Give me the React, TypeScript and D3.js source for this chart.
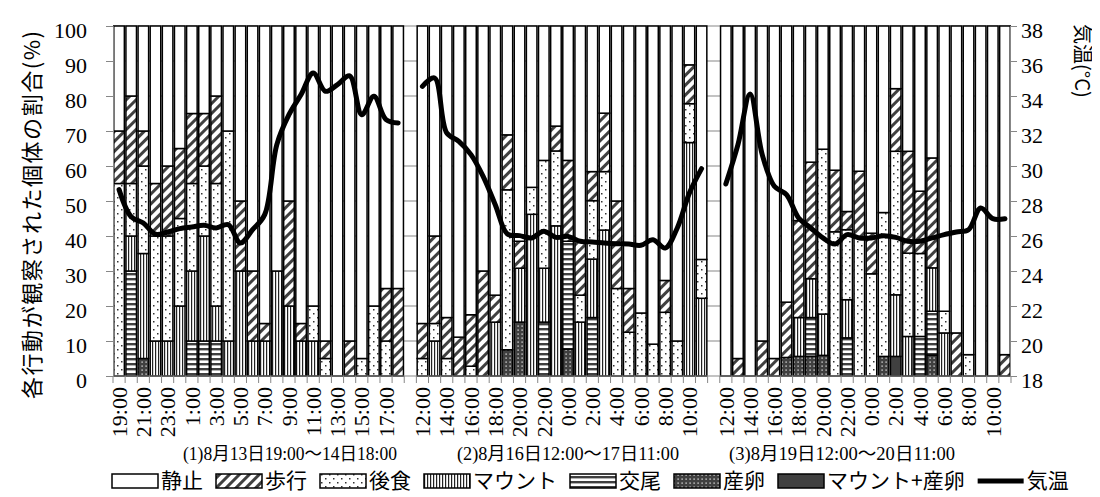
import * as d3 from 'd3';
import React, { useRef, useEffect } from 'react';

const width = 1100;
const height = 497;
const plot = { left: 105, right: 1003, top: 18, bottom: 368 };

// category labels (only every other hour is labelled, "" = unlabelled / gap)
const hourLabels = [
  '19:00', '', '21:00', '', '23:00', '', '1:00', '', '3:00', '', '5:00', '', '7:00', '', '9:00', '', '11:00', '', '13:00', '', '15:00', '', '17:00', '',
  '',
  '12:00', '', '14:00', '', '16:00', '', '18:00', '', '20:00', '', '22:00', '', '0:00', '', '2:00', '', '4:00', '', '6:00', '', '8:00', '', '10:00', '',
  '',
  '12:00', '', '14:00', '', '16:00', '', '18:00', '', '20:00', '', '22:00', '', '0:00', '', '2:00', '', '4:00', '', '6:00', '', '8:00', '', '10:00', '',
];

const periodLabels = ['(1)8月13日19:00～14日18:00', '(2)8月16日12:00～17日11:00', '(3)8月19日12:00～20日11:00'];

// % of individuals per behaviour (null = gap between periods)
const rest = [
  30, 20, 30, 45, 40, 35, 25, 25, 20, 30, 50, 70, 85, 70, 50, 85, 80, 90, 100, 90, 95, 80, 75, 75,
  null,
  85, 60, 83.3, 88.9, 82.5, 70, 76.9, 31.1, 61.5, 46.1, 38.4, 28.6, 38.4, 61.5, 41.6, 24.9, 50, 75, 82, 90.9, 72.7, 90, 11.1, 66.7,
  null,
  100, 95, 100, 90, 95, 78.9, 55.6, 38.9, 35.2, 41.2, 53, 41.5, 59.2, 53.3, 17.9, 35.8, 47.2, 37.7, 81.5, 87.7, 93.9, 100, 100, 93.9,
];
const walk = [
  15, 25, 10, 15, 20, 20, 20, 15, 25, 0, 20, 20, 5, 0, 30, 5, 0, 5, 0, 10, 0, 0, 15, 25,
  null,
  10, 25, 11.7, 11.1, 14.7, 30, 7.7, 15.7, 7.7, 0, 0, 7.1, 23.1, 15.4, 8.3, 16.7, 25, 12.5, 0, 0, 9.1, 0, 11.1, 0,
  null,
  0, 5, 0, 10, 5, 15.8, 27.7, 33.3, 0, 17.6, 5.2, 19.1, 11.6, 0, 17.9, 29.1, 17.8, 31.4, 0, 12.3, 0, 0, 0, 6.1,
];
const feed = [
  55, 15, 25, 30, 30, 25, 25, 20, 35, 60, 0, 0, 0, 0, 0, 0, 10, 5, 0, 0, 5, 20, 10, 0,
  null,
  5, 5, 5, 0, 2.8, 0, 0, 45.7, 0, 7.7, 30.8, 21.4, 0, 7.7, 16.7, 16.7, 25, 12.5, 18, 9.1, 18.2, 10, 11.1, 11.1,
  null,
  0, 0, 0, 0, 0, 0, 0, 0, 47.1, 41.2, 20, 39.4, 29.2, 41.1, 41, 23.8, 23.7, 0, 6.2, 0, 6.1, 0, 0, 0,
];
const mount = [
  0, 10, 30, 10, 10, 20, 20, 30, 10, 10, 30, 10, 10, 30, 20, 10, 10, 0, 0, 0, 0, 0, 0, 0,
  null,
  0, 10, 0, 0, 0, 0, 15.4, 0, 15.4, 46.2, 15.4, 42.9, 0, 15.4, 16.7, 41.7, 0, 0, 0, 0, 0, 0, 66.7, 22.2,
  null,
  0, 0, 0, 0, 0, 0, 11.1, 11.1, 11.8, 0, 10.9, 0, 0, 0, 17.6, 11.3, 0, 12.4, 12.3, 0, 0, 0, 0, 0,
];
const mating = [
  0, 30, 0, 0, 0, 0, 10, 10, 10, 0, 0, 0, 0, 0, 0, 0, 0, 0, 0, 0, 0, 0, 0, 0,
  null,
  0, 0, 0, 0, 0, 0, 0, 0, 0, 0, 15.4, 0, 30.8, 0, 16.7, 0, 0, 0, 0, 0, 0, 0, 0, 0,
  null,
  0, 0, 0, 0, 0, 0, 0, 11.1, 0, 0, 10.9, 0, 0, 0, 0, 0, 11.3, 12.5, 0, 0, 0, 0, 0, 0,
];
const spawn = [
  0, 0, 5, 0, 0, 0, 0, 0, 0, 0, 0, 0, 0, 0, 0, 0, 0, 0, 0, 0, 0, 0, 0, 0,
  null,
  0, 0, 0, 0, 0, 0, 0, 7.5, 15.4, 0, 0, 0, 7.7, 0, 0, 0, 0, 0, 0, 0, 0, 0, 0, 0,
  null,
  0, 0, 0, 0, 0, 5.3, 5.6, 5.6, 5.9, 0, 0, 0, 0, 5.6, 0, 0, 0, 6.0, 0, 0, 0, 0, 0, 0,
];
const mountSpawn = [
  0, 0, 0, 0, 0, 0, 0, 0, 0, 0, 0, 0, 0, 0, 0, 0, 0, 0, 0, 0, 0, 0, 0, 0,
  null,
  0, 0, 0, 0, 0, 0, 0, 0, 0, 0, 0, 0, 0, 0, 0, 0, 0, 0, 0, 0, 0, 0, 0, 0,
  null,
  0, 0, 0, 0, 0, 0, 0, 0, 0, 0, 0, 0, 0, 0, 5.6, 0, 0, 0, 0, 0, 0, 0, 0, 0,
];

// air temperature (°C)
const temperature = [
  28.65, 27.1, 26.74, 26.1, 26.23, 26.42, 26.51, 26.61, 26.46, 26.65, 25.6, 26.36, 27.22, 31.22, 32.93, 34.08, 35.31, 34.27, 34.65, 35.15, 32.93, 33.98, 32.65, 32.46,
  null,
  34.55, 35.03, 31.89, 31.41, 30.65, 29.41, 27.79, 26.11, 26.02, 25.89, 26.27, 25.92, 25.98, 25.7, 25.66, 25.6, 25.56, 25.54, 25.47, 25.79, 25.31, 26.46, 28.46, 29.85,
  null,
  28.97, 31.22, 34.11, 30.65, 28.84, 28.36, 27.03, 26.46, 25.89, 25.54, 26.08, 25.89, 25.89, 26.02, 25.92, 25.7, 25.7, 25.89, 26.08, 26.23, 26.36, 27.6, 26.99, 26.99,
];

// bottom -> top stacking order
const seriesKeys = ['mountSpawn', 'spawn', 'mating', 'mount', 'feed', 'walk', 'rest'];
const seriesValues: Record<string, (number | null)[]> = { mountSpawn, spawn, mating, mount, feed, walk, rest };
const seriesFill: Record<string, string> = {
  rest: '#ffffff',
  walk: 'url(#p-walk)',
  feed: 'url(#p-feed)',
  mount: 'url(#p-mount)',
  mating: 'url(#p-mating)',
  spawn: 'url(#p-spawn)',
  mountSpawn: '#404040',
};
const legendItems = [
  { key: 'rest', label: '静止' },
  { key: 'walk', label: '歩行' },
  { key: 'feed', label: '後食' },
  { key: 'mount', label: 'マウント' },
  { key: 'mating', label: '交尾' },
  { key: 'spawn', label: '産卵' },
  { key: 'mountSpawn', label: 'マウント+産卵' },
  { key: 'temp', label: '気温' },
];

const SERIF = "'Liberation Serif', 'Times New Roman', serif";
const JP = "'Noto Sans CJK JP', sans-serif";
const AXIS = '#878787';

const App = () => {
  const svgRef = useRef<SVGSVGElement>(null);

  useEffect(() => {
    const svg = d3.select(svgRef.current);
    svg.selectAll('*').remove();

    const n = hourLabels.length;
    const x = d3.scaleBand<number>()
      .domain(d3.range(n))
      .range([plot.left, plot.right])
      .paddingInner(0.13)
      .paddingOuter(0.065);
    const step = x.step();
    const y = d3.scaleLinear().domain([0, 100]).range([plot.bottom, plot.top]);
    const yT = d3.scaleLinear().domain([18, 38]).range([plot.bottom, plot.top]);

    // patterns
    const defs = svg.append('defs');
    const pWalk = defs.append('pattern').attr('id', 'p-walk').attr('patternUnits', 'userSpaceOnUse')
      .attr('width', 7).attr('height', 7).attr('patternTransform', 'rotate(45)');
    pWalk.append('rect').attr('width', 7).attr('height', 7).attr('fill', '#fff');
    pWalk.append('rect').attr('width', 3).attr('height', 7).attr('fill', '#404040');

    const pFeed = defs.append('pattern').attr('id', 'p-feed').attr('patternUnits', 'userSpaceOnUse')
      .attr('width', 8).attr('height', 8);
    pFeed.append('rect').attr('width', 8).attr('height', 8).attr('fill', '#fff');
    pFeed.append('rect').attr('x', 1).attr('y', 1).attr('width', 1.5).attr('height', 1.5).attr('fill', '#333');
    pFeed.append('rect').attr('x', 5).attr('y', 5).attr('width', 1.5).attr('height', 1.5).attr('fill', '#333');

    const pMount = defs.append('pattern').attr('id', 'p-mount').attr('patternUnits', 'userSpaceOnUse')
      .attr('width', 3).attr('height', 3);
    pMount.append('rect').attr('width', 3).attr('height', 3).attr('fill', '#fff');
    pMount.append('rect').attr('width', 1.2).attr('height', 3).attr('fill', '#222');

    const pMating = defs.append('pattern').attr('id', 'p-mating').attr('patternUnits', 'userSpaceOnUse')
      .attr('width', 5).attr('height', 5);
    pMating.append('rect').attr('width', 5).attr('height', 5).attr('fill', '#fff');
    pMating.append('rect').attr('width', 5).attr('height', 2.4).attr('fill', '#404040');

    const pSpawn = defs.append('pattern').attr('id', 'p-spawn').attr('patternUnits', 'userSpaceOnUse')
      .attr('width', 4).attr('height', 4);
    pSpawn.append('rect').attr('width', 4).attr('height', 4).attr('fill', '#404040');
    pSpawn.append('rect').attr('x', 1.5).attr('y', 1.5).attr('width', 1.2).attr('height', 1.2).attr('fill', '#fff');

    // gridlines
    svg.append('g')
      .selectAll('line')
      .data(d3.range(10, 101, 10))
      .join('line')
      .attr('x1', plot.left).attr('x2', plot.right)
      .attr('y1', d => y(d)).attr('y2', d => y(d))
      .attr('stroke', AXIS).attr('stroke-width', 1);

    // stacked bars
    const rows = d3.range(n)
      .filter(i => rest[i] != null)
      .map(i => {
        const row: any = { idx: i };
        seriesKeys.forEach(k => { row[k] = seriesValues[k][i] ?? 0; });
        return row;
      });
    const stacked = d3.stack<any>().keys(seriesKeys)(rows);

    stacked.forEach(layer => {
      svg.append('g')
        .selectAll('rect')
        .data(layer.filter(d => d[1] - d[0] > 0))
        .join('rect')
        .attr('x', d => x(d.data.idx)!)
        .attr('width', x.bandwidth())
        .attr('y', d => y(d[1]))
        .attr('height', d => y(d[0]) - y(d[1]))
        .attr('fill', seriesFill[layer.key])
        .attr('stroke', '#000')
        .attr('stroke-width', 1.5);
    });

    // left axis
    const left = svg.append('g').attr('transform', `translate(${plot.left},0)`)
      .call(d3.axisLeft(y).tickValues(d3.range(0, 101, 10)).tickSize(7).tickPadding(19));
    // right axis
    const right = svg.append('g').attr('transform', `translate(${plot.right - 1},0)`)
      .call(d3.axisRight(yT).tickValues(d3.range(18, 39, 2)).tickSize(7).tickPadding(4));
    [left, right].forEach(g => {
      g.select('.domain').attr('stroke', AXIS);
      g.selectAll('.tick line').attr('stroke', AXIS);
      g.selectAll('.tick text')
        .attr('font-family', SERIF).attr('font-size', 22).attr('fill', '#000').attr('dy', '0.5em');
    });

    // bottom axis
    const bottom = svg.append('g');
    bottom.append('line')
      .attr('x1', plot.left).attr('x2', plot.right)
      .attr('y1', plot.bottom).attr('y2', plot.bottom)
      .attr('stroke', AXIS);
    bottom.selectAll('line.tk')
      .data(d3.range(n + 1))
      .join('line')
      .attr('class', 'tk')
      .attr('x1', i => plot.left + i * step).attr('x2', i => plot.left + i * step)
      .attr('y1', plot.bottom).attr('y2', plot.bottom + 7)
      .attr('stroke', AXIS);
    bottom.selectAll('text')
      .data(hourLabels.map((t, i) => ({ t, i })).filter(d => d.t !== ''))
      .join('text')
      .attr('transform', d => `translate(${x(d.i)! + x.bandwidth() / 2},${plot.bottom + 11}) rotate(-90)`)
      .attr('text-anchor', 'end')
      .attr('dy', '0.35em')
      .attr('font-family', SERIF)
      .attr('font-size', 22)
      .text(d => d.t);

    // temperature line
    const line = d3.line<number | null>()
      .defined(d => d != null)
      .x((_, i) => x(i)! + x.bandwidth() / 2)
      .y(d => yT(d as number))
      .curve(d3.curveCatmullRom.alpha(0.5));
    svg.append('path')
      .attr('d', line(temperature))
      .attr('fill', 'none')
      .attr('stroke', '#000')
      .attr('stroke-width', 5)
      .attr('stroke-linejoin', 'round')
      .attr('stroke-linecap', 'round');

    // axis titles
    svg.append('text')
      .attr('transform', `translate(24,${(plot.top + plot.bottom) / 2 + 14}) rotate(-90)`)
      .attr('text-anchor', 'middle')
      .attr('dy', '0.35em')
      .attr('font-family', JP)
      .attr('font-size', 22)
      .attr('textLength', 368)
      .text('各行動が観察された個体の割合(%)');
    svg.append('text')
      .attr('transform', `translate(1074,16) rotate(90)`)
      .attr('text-anchor', 'start')
      .attr('dy', '0.35em')
      .attr('font-family', JP)
      .attr('font-size', 20)
      .text('気温(°C)');

    // period captions
    const captionX = [282, 560, 834];
    const captionW = [214, 222, 226];
    svg.append('g')
      .selectAll('text')
      .data(periodLabels)
      .join('text')
      .attr('x', (_, i) => captionX[i])
      .attr('y', 446)
      .attr('dy', '0.35em')
      .attr('text-anchor', 'middle')
      .attr('font-family', `'Liberation Serif', 'Noto Sans CJK JP', serif`)
      .attr('font-size', 18)
      .attr('textLength', (_, i) => captionW[i])
      .attr('lengthAdjust', 'spacingAndGlyphs')
      .text(d => d);

    // legend
    const lg = svg.append('g').attr('transform', 'translate(104,473)');
    let cx = 0;
    legendItems.forEach(item => {
      if (item.key === 'temp') {
        lg.append('line')
          .attr('x1', cx).attr('x2', cx + 46).attr('y1', 0).attr('y2', 0)
          .attr('stroke', '#000').attr('stroke-width', 5);
      } else {
        lg.append('rect')
          .attr('x', cx).attr('y', -7).attr('width', 46).attr('height', 14)
          .attr('fill', seriesFill[item.key])
          .attr('stroke', '#000').attr('stroke-width', 1.5);
      }
      const t = lg.append('text')
        .attr('x', cx + 49).attr('y', 0).attr('dy', '0.35em')
        .attr('font-family', JP).attr('font-size', 21)
        .text(item.label);
      const w = (t.node() as SVGTextElement).getComputedTextLength();
      cx += 49 + w + 13;
    });
  }, []);

  return (
    <svg ref={svgRef} width={width} height={height} style={{ display: 'block', background: '#fff' }} />
  );
};

export default App;
